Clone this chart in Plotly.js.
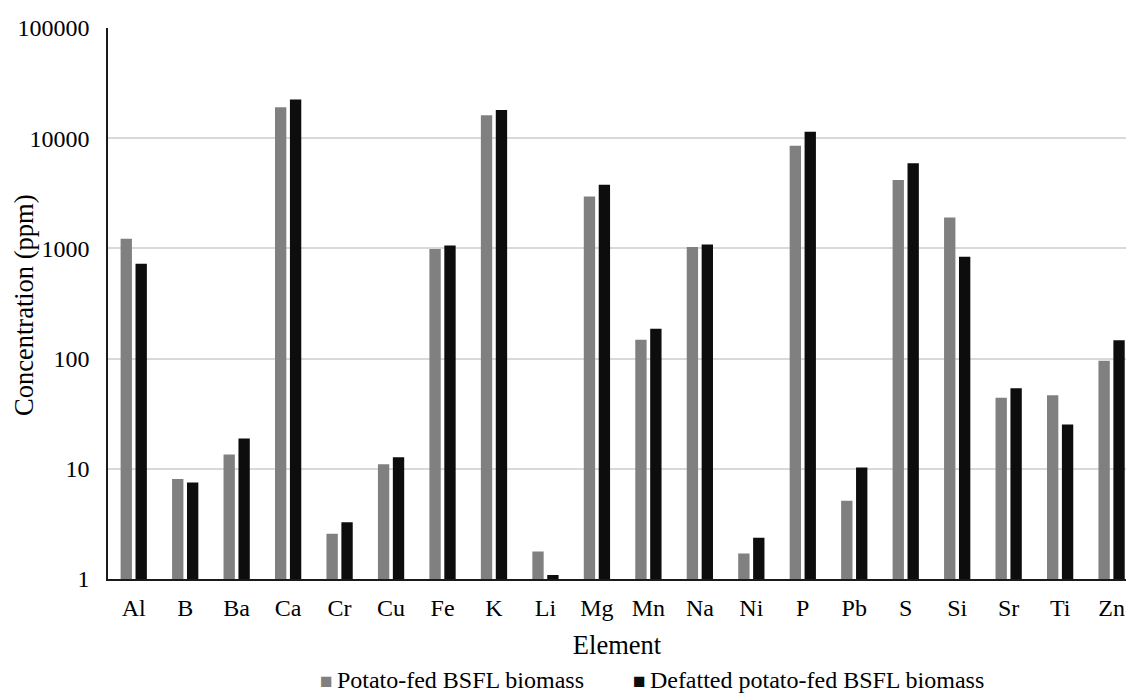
<!DOCTYPE html>
<html>
<head>
<meta charset="utf-8">
<script src="https://cdn.plot.ly/plotly-3.0.1.min.js"></script>
<style>
  html, body { margin: 0; padding: 0; background: #ffffff; overflow: hidden; }
  #chart { width: 1126px; height: 693px; }
</style>
</head>
<body>
<div id="chart"></div>
<script>
const elements = ["Al","B","Ba","Ca","Cr","Cu","Fe","K","Li","Mg","Mn","Na","Ni","P","Pb","S","Si","Sr","Ti","Zn"];
const potatoFed = [1223, 8.07, 13.5, 19140, 2.58, 10.97, 986, 16190, 1.78, 2960, 148, 1028, 1.70, 8530, 5.14, 4165, 1910, 44.2, 46.4, 95.7];
const defatted = [726, 7.53, 18.8, 22450, 3.27, 12.7, 1064, 17980, 1.09, 3778, 187, 1086, 2.37, 11430, 10.3, 5940, 839, 53.7, 25.3, 147];
const seriesNames = ["Potato-fed BSFL biomass", "Defatted potato-fed BSFL biomass"];
const seriesColors = ["#808080", "#0D0D0D"];
const yTickVals = [1, 10, 100, 1000, 10000, 100000];
const yTickText = ["1", "10", "100", "1000", "10000", "100000"];

const FONT = "Liberation Serif";

const traces = [
  { type: "bar", name: seriesNames[0], x: elements, y: potatoFed,
    marker: { color: seriesColors[0] }, hoverinfo: "x+y+name", showlegend: false },
  { type: "bar", name: seriesNames[1], x: elements, y: defatted,
    marker: { color: seriesColors[1] }, hoverinfo: "x+y+name", showlegend: false }
];

// plot area in pixels: left 108, right 1126, top 28, bottom 579
const PL = 108, PW = 1018, PB = 579, PH = 551;
const px = v => (v - PL) / PW;
const py = v => (PB - v) / PH;

const legendX = [318, 631];
const legendAnnotations = seriesNames.map((name, i) => ({
  text: '<span style="color:' + seriesColors[i] + ';font-size:21px">■\u2009</span>' + name,
  xref: "paper", yref: "paper",
  x: px(legendX[i]), y: py(680),
  xanchor: "left", yanchor: "middle",
  showarrow: false,
  font: { family: FONT, size: 24, color: "#000000" }
}));

const layout = {
  width: 1126, height: 693,
  paper_bgcolor: "#ffffff", plot_bgcolor: "#ffffff",
  margin: { l: 108, r: 0, t: 28, b: 114, pad: 0, autoexpand: false },
  font: { family: FONT, size: 24, color: "#000000" },
  barmode: "group",
  bargap: 0.42,
  bargroupgap: 0.24,
  showlegend: false,
  xaxis: {
    type: "category",
    range: [-0.5, 19.28],
    showline: true, linecolor: "#1a1a1a", linewidth: 1.5,
    showgrid: false, ticks: "", zeroline: false,
    ticklabelstandoff: 6,
    tickfont: { family: FONT, size: 24, color: "#000000" },
    title: { text: "Element", font: { family: FONT, size: 26.5, color: "#000000" }, standoff: 16 },
    automargin: false,
    fixedrange: true
  },
  yaxis: {
    type: "log",
    range: [0, 5],
    tickvals: yTickVals,
    ticktext: yTickText,
    showline: true, linecolor: "#1a1a1a", linewidth: 1.5,
    showgrid: true, gridcolor: "#d9d9d9", gridwidth: 1.5,
    ticks: "", ticklabelstandoff: 12,
    zeroline: false,
    tickfont: { family: FONT, size: 24, color: "#000000" },
    automargin: false,
    fixedrange: true
  },
  annotations: [
    {
      text: "Concentration (ppm)",
      xref: "paper", yref: "paper",
      x: px(24), y: py(305),
      xanchor: "center", yanchor: "middle",
      textangle: -90, showarrow: false,
      font: { family: FONT, size: 26.5, color: "#000000" }
    }
  ].concat(legendAnnotations)
};

Plotly.newPlot("chart", traces, layout, { displayModeBar: false, responsive: false });
</script>
</body>
</html>
